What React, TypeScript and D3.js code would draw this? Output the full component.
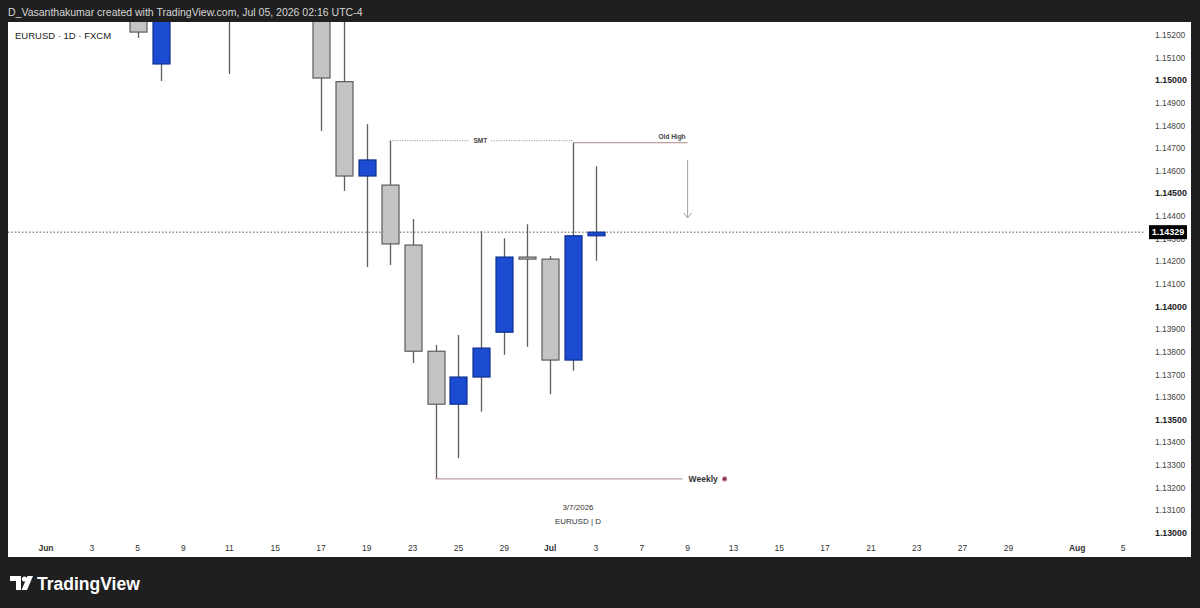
import React from "react";
import * as d3 from "d3";

// ---------- data ----------
const candleDates = [
  "2026-06-05", "2026-06-08", "2026-06-09", "2026-06-10", "2026-06-11", "2026-06-12",
  "2026-06-15", "2026-06-16", "2026-06-17", "2026-06-18", "2026-06-19", "2026-06-22",
  "2026-06-23", "2026-06-24", "2026-06-25", "2026-06-26", "2026-06-29", "2026-06-30",
  "2026-07-01", "2026-07-02", "2026-07-03",
];
const opens = [
  1.153, 1.15072, 1.1535, 1.1552, 1.1542, 1.1555,
  1.158, 1.16, 1.157, 1.14994, 1.14577, 1.14537,
  1.14272, 1.13803, 1.13569, 1.13689, 1.13887, 1.14219,
  1.1421, 1.13764, 1.14313,
];
const highs = [
  1.1538, 1.1545, 1.156, 1.157, 1.1565, 1.159,
  1.161, 1.162, 1.159, 1.153, 1.14806, 1.14733,
  1.14387, 1.13831, 1.13875, 1.14334, 1.14302, 1.14364,
  1.14224, 1.14724, 1.1462,
];
const lows = [
  1.15187, 1.14997, 1.1528, 1.153, 1.15028, 1.154,
  1.156, 1.1555, 1.14776, 1.14511, 1.14175, 1.14184,
  1.13751, 1.13239, 1.1333, 1.13536, 1.13787, 1.13823,
  1.13613, 1.13717, 1.14203,
];
const closes = [
  1.15213, 1.1535, 1.1552, 1.1542, 1.1555, 1.158,
  1.16, 1.157, 1.1501, 1.14577, 1.14648, 1.14277,
  1.13803, 1.13569, 1.13689, 1.13817, 1.14219, 1.1421,
  1.13764, 1.14313, 1.14329,
];

const xTickLabels = ["Jun", "3", "5", "9", "11", "15", "17", "19", "23", "25", "29", "Jul", "3", "7", "9", "13", "15", "17", "21", "23", "27", "29", "Aug", "5"];
const xTickDates = [
  "2026-06-01", "2026-06-03", "2026-06-05", "2026-06-09", "2026-06-11", "2026-06-15",
  "2026-06-17", "2026-06-19", "2026-06-23", "2026-06-25", "2026-06-29", "2026-07-01",
  "2026-07-03", "2026-07-07", "2026-07-09", "2026-07-13", "2026-07-15", "2026-07-17",
  "2026-07-21", "2026-07-23", "2026-07-27", "2026-07-29", "2026-08-03", "2026-08-05",
];
const priceTicks = d3.range(1.13, 1.15201, 0.001).map((v) => +v.toFixed(3));
const lastPrice = 1.14329;

// annotations
const smtLevel = 1.14733;
const smtFrom = "2026-06-22";
const smtTo = "2026-07-02";
const oldHighLevel = 1.14724;
const oldHighFrom = "2026-07-02";
const oldHighTo = "2026-07-09";
const arrowTop = 1.14648;
const arrowBottom = 1.14392;
const weeklyLevel = 1.13239;
const weeklyFrom = "2026-06-24";
const weeklyTo = "2026-07-09";

// ---------- helpers ----------
const startDate = new Date("2026-06-01T00:00:00Z");
function tradingIndex(s: string): number {
  const d = new Date(s + "T00:00:00Z");
  let n = 0;
  const cur = new Date(startDate);
  while (cur < d) {
    const wd = cur.getUTCDay();
    if (wd !== 0 && wd !== 6) n++;
    cur.setUTCDate(cur.getUTCDate() + 1);
  }
  return n;
}

const W = 1200;
const H = 608;
const plotL = 8;
const plotT = 22;
const plotR = 1191;
const plotB = 557;
const axisX = 1138;

const x = d3.scaleLinear().domain([0, 47]).range([46, 1123]);
const y = d3.scaleLinear().domain([1.13, 1.152]).range([533, 35]);

const FONT = "'Liberation Sans', Arial, sans-serif";
const UP_FILL = "#1a4bd0";
const UP_STROKE = "#10308f";
const DN_FILL = "#c4c4c4";
const DN_STROKE = "#5c5c5c";
const WICK = "#5e5e5e";
const bodyW = 17;

export default function App() {
  const candles = candleDates.map((d, i) => ({
    i: tradingIndex(d),
    o: opens[i],
    h: highs[i],
    l: lows[i],
    c: closes[i],
  }));

  const smtX1 = x(tradingIndex(smtFrom));
  const smtX2 = x(tradingIndex(smtTo));
  const smtY = y(smtLevel);
  const smtMid = (smtX1 + smtX2) / 2;
  const ohX1 = x(tradingIndex(oldHighFrom));
  const ohX2 = x(tradingIndex(oldHighTo));
  const ohY = y(oldHighLevel);
  const wkX1 = x(tradingIndex(weeklyFrom));
  const wkX2 = x(tradingIndex(weeklyTo)) - 5;
  const wkY = y(weeklyLevel);
  const arX = x(tradingIndex(oldHighTo));
  const lastY = y(lastPrice);

  return (
    <svg
      width={W}
      height={H}
      style={{ position: "absolute", left: 0, top: 0, display: "block" }}
    >
      <defs>
        <clipPath id="plotClip">
          <rect x={plotL} y={plotT} width={axisX - plotL} height={plotB - plotT - 20} />
        </clipPath>
        <clipPath id="underBox">
          <rect x={1140} y={lastY + 7} width={60} height={20} />
        </clipPath>
      </defs>
      <rect x={0} y={0} width={W} height={H} fill="#1f1f1f" />
      <text x={8} y={16} fontFamily={FONT} fontSize={10.5} fill="#d6d6d6">
        D_Vasanthakumar created with TradingView.com, Jul 05, 2026 02:16 UTC-4
      </text>
      <rect x={plotL} y={plotT} width={plotR - plotL} height={plotB - plotT} fill="#ffffff" />

      {/* current price line */}
      <line
        x1={plotL}
        x2={axisX + 6}
        y1={lastY}
        y2={lastY}
        stroke="#555"
        strokeWidth={1}
        strokeDasharray="1.5,2"
      />

      <g clipPath="url(#plotClip)">
        {candles.map((c, k) => {
          const up = c.c >= c.o;
          const top = y(Math.max(c.o, c.c));
          const bot = y(Math.min(c.o, c.c));
          const cx = Math.round(x(c.i)) + 0.5;
          const h = Math.max(bot - top, 2);
          return (
            <g key={k}>
              <line x1={cx} x2={cx} y1={y(c.h)} y2={y(c.l)} stroke={WICK} strokeWidth={1.3} />
              <rect
                x={cx - bodyW / 2}
                y={top}
                width={bodyW}
                height={h}
                fill={up ? UP_FILL : DN_FILL}
                stroke={up ? UP_STROKE : DN_STROKE}
                strokeWidth={1.2}
              />
            </g>
          );
        })}
      </g>

      {/* SMT dotted line */}
      <line x1={smtX1} x2={smtMid - 12} y1={smtY} y2={smtY} stroke="#888" strokeWidth={1} strokeDasharray="1,1.5" />
      <line x1={smtMid + 10} x2={smtX2} y1={smtY} y2={smtY} stroke="#888" strokeWidth={1} strokeDasharray="1,1.5" />
      <text x={smtMid - 1} y={smtY + 2.5} textAnchor="middle" fontFamily={FONT} fontSize={6.5} fontWeight="bold" fill="#444">
        SMT
      </text>

      {/* Old High */}
      <line x1={ohX1} x2={ohX2} y1={ohY} y2={ohY} stroke="#a88686" strokeWidth={1} />
      <text x={ohX2 - 2} y={ohY - 4} textAnchor="end" fontFamily={FONT} fontSize={6.5} fontWeight="bold" fill="#444">
        Old High
      </text>

      {/* arrow */}
      <line x1={arX} x2={arX} y1={y(arrowTop)} y2={y(arrowBottom)} stroke="#a0a0a0" strokeWidth={1} />
      <polyline
        points={`${arX - 4},${y(arrowBottom) - 5} ${arX},${y(arrowBottom)} ${arX + 4},${y(arrowBottom) - 5}`}
        fill="none"
        stroke="#a0a0a0"
        strokeWidth={1}
      />

      {/* Weekly */}
      <line x1={wkX1} x2={wkX2} y1={wkY} y2={wkY} stroke="#b08585" strokeWidth={1} />
      <text x={wkX2 + 6} y={wkY + 3} fontFamily={FONT} fontSize={8.5} fontWeight="bold" fill="#333">
        Weekly
      </text>
      <circle cx={wkX2 + 42} cy={wkY} r={2.6} fill="#c47a92" />
      <circle cx={wkX2 + 42} cy={wkY} r={1.3} fill="#7a1f3f" />

      {/* caption */}
      <text x={578} y={510} textAnchor="middle" fontFamily={FONT} fontSize={8} fill="#333">
        3/7/2026
      </text>
      <text x={578} y={524} textAnchor="middle" fontFamily={FONT} fontSize={8} fill="#333">
        EURUSD | D
      </text>

      {/* symbol label */}
      <text x={15} y={39} fontFamily={FONT} fontSize={9.5} fill="#222">
        EURUSD · 1D · FXCM
      </text>

      {/* price axis */}
      {priceTicks.map((v) => {
        const major = Math.round(v * 1000) % 5 === 0;
        const hidden = Math.abs(y(v) - lastY) < 10;
        return (
          <text
            key={v}
            x={1155}
            y={y(v) + 3}
            fontFamily={FONT}
            fontSize={major ? 8.8 : 8.4}
            fontWeight={major ? "bold" : "normal"}
            fill={major ? "#222" : "#444"}
            clipPath={hidden ? "url(#underBox)" : undefined}
          >
            {v.toFixed(5)}
          </text>
        );
      })}
      <rect x={1149} y={lastY - 7} width={38} height={14} fill="#000" />
      <text x={1168} y={lastY + 3.2} textAnchor="middle" fontFamily={FONT} fontSize={9} fontWeight="bold" fill="#fff">
        {lastPrice.toFixed(5)}
      </text>

      {/* time axis */}
      {xTickLabels.map((lab, k) => (
        <text
          key={k}
          x={x(tradingIndex(xTickDates[k]))}
          y={551}
          textAnchor="middle"
          fontFamily={FONT}
          fontSize={8.5}
          fontWeight={isNaN(+lab) ? "bold" : "normal"}
          fill="#333"
        >
          {lab}
        </text>
      ))}

      {/* TradingView logo */}
      <g fill="#ffffff">
        <path d="M10 576 H21 V590 H16 V581 H10 Z" />
        <circle cx={24.5} cy={579} r={2.6} />
        <path d="M27.5 576 H33 L27 590 H21.5 Z" />
      </g>
      <text x={37} y={590} fontFamily={FONT} fontSize={17.5} fontWeight="bold" fill="#ffffff">
        TradingView
      </text>
    </svg>
  );
}
